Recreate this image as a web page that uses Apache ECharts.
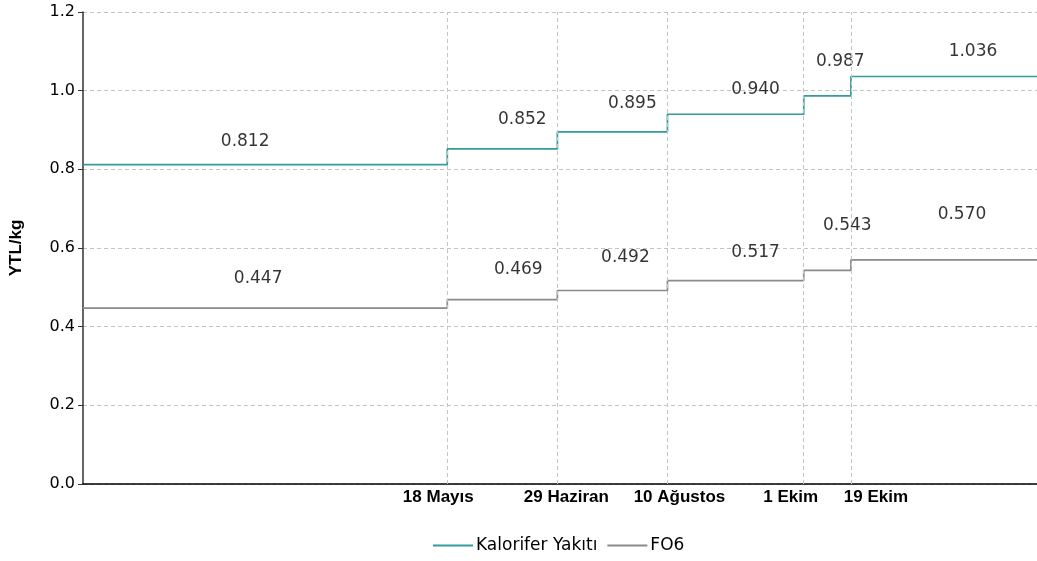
<!DOCTYPE html>
<html>
<head>
<meta charset="utf-8">
<script src="https://cdn.jsdelivr.net/npm/echarts@6/dist/echarts.min.js"></script>
<style>html,body{margin:0;padding:0;background:#fff}#c{width:1037px;height:561px}</style>
</head>
<body>
<div id="c"></div>
<script>
// ---- data ----
const changeDates = ['2006-05-18', '2006-06-29', '2006-08-10', '2006-10-01', '2006-10-19'];
const changeLabels = ['18 Mayıs', '29 Haziran', '10 Ağustos', '1 Ekim', '19 Ekim'];
const kaloriferValues = [0.812, 0.852, 0.895, 0.940, 0.987, 1.036];
const fo6Values = [0.447, 0.469, 0.492, 0.517, 0.543, 0.570];
const seriesNames = ['Kalorifer Yakıtı', 'FO6'];

// ---- layout (pixel nudges for text labels only) ----
const axisLabelNudge = [-9, 9, 12, -13, 25];
const kalLabelNudge = [[-20, 1], [20, -5], [20, -4], [20, 0], [13, -10], [29, 0]];
const fo6LabelNudge = [[-7, 1], [16, 1], [13, -2], [20, 2], [20, -14], [18, -15]];

// ---- helpers ----
const dayOf = s => { const p = s.split('-').map(Number); return (Date.UTC(p[0], p[1]-1, p[2]) - Date.UTC(p[0], 0, 1)) / 86400000; };
const changeDays = changeDates.map(dayOf);
const X_MIN = -2, X_MAX = 362;
const starts = [X_MIN].concat(changeDays);
const ends = changeDays.concat([X_MAX]);

function stepData(vals) {
  const d = vals.map((v, i) => [starts[i], v]);
  d.push([X_MAX, vals[vals.length - 1]]);
  return d;
}
function labelData(vals, nudges) {
  return vals.map((v, i) => ({value: [(starts[i] + ends[i]) / 2, v], label: {offset: nudges[i]}}));
}

const TEAL = '#339c9c', GRAY = '#8a8a8a';
const plainFont = 'DejaVu Sans';

const chart = echarts.init(document.getElementById('c'), null, {renderer: 'canvas'});
chart.setOption({
  animation: false,
  backgroundColor: '#fff',
  grid: {left: 81, right: 0, top: 12, bottom: 77, containLabel: false},
  legend: {
    data: seriesNames,
    bottom: 2,
    left: 428,
    icon: 'rect',
    itemWidth: 40,
    itemHeight: 2,
    itemGap: 10,
    textStyle: {fontFamily: plainFont, fontSize: 17, color: '#000', padding: [0,0,0,-2]}
  },
  xAxis: {
    type: 'value',
    min: X_MIN, max: X_MAX,
    axisLine: {show: true, onZero: false, lineStyle: {color: '#000', width: 1.5}},
    axisTick: {show: false},
    splitLine: {show: false},
    axisLabel: {show: false}
  },
  yAxis: {
    type: 'value',
    min: 0, max: 1.2, interval: 0.2,
    name: 'YTL/kg',
    nameLocation: 'middle',
    nameGap: 58,
    nameTextStyle: {fontFamily: 'Liberation Sans', fontWeight: 'bold', fontSize: 17, color: '#000'},
    axisLine: {show: true, onZero: false, lineStyle: {color: '#333', width: 1.5}},
    axisTick: {show: true, length: 5, lineStyle: {color: '#333'}},
    axisLabel: {formatter: v => v.toFixed(1), fontFamily: plainFont, fontSize: 16, color: '#000', margin: 8},
    splitLine: {show: true, lineStyle: {color: '#c4c4c4', type: [4, 3], width: 1}}
  },
  series: [
    {
      name: 'grid-v', type: 'line', z: 1, silent: true,
      data: [[X_MIN, 0]], showSymbol: false, lineStyle: {opacity: 0},
      markLine: {
        silent: true, symbol: ['none', 'none'],
        lineStyle: {color: '#c4c4c4', type: [4, 3], width: 1},
        label: {show: true, position: 'start', distance: 5,
                fontFamily: 'Liberation Sans', fontWeight: 'bold', fontSize: 17, color: '#000'},
        data: changeDays.map((d, i) => ({
          xAxis: d,
          label: {formatter: changeLabels[i], offset: [axisLabelNudge[i], 0]}
        }))
      }
    },
    {
      name: seriesNames[0], type: 'line', step: 'end', z: 3,
      data: stepData(kaloriferValues), showSymbol: false, color: TEAL,
      lineStyle: {color: TEAL, width: 1.7}
    },
    {
      name: seriesNames[1], type: 'line', step: 'end', z: 3,
      data: stepData(fo6Values), showSymbol: false, color: GRAY,
      lineStyle: {color: GRAY, width: 1.7}
    },
    {
      name: 'lbl1', type: 'scatter', symbolSize: 0, silent: true,
      data: labelData(kaloriferValues, kalLabelNudge),
      label: {show: true, position: 'top', distance: 16, formatter: p => p.value[1].toFixed(3),
              fontFamily: plainFont, fontSize: 17, color: '#000'}
    },
    {
      name: 'lbl2', type: 'scatter', symbolSize: 0, silent: true,
      data: labelData(fo6Values, fo6LabelNudge),
      label: {show: true, position: 'top', distance: 22, formatter: p => p.value[1].toFixed(3),
              fontFamily: plainFont, fontSize: 17, color: '#000'}
    }
  ]
});
</script>
</body>
</html>
